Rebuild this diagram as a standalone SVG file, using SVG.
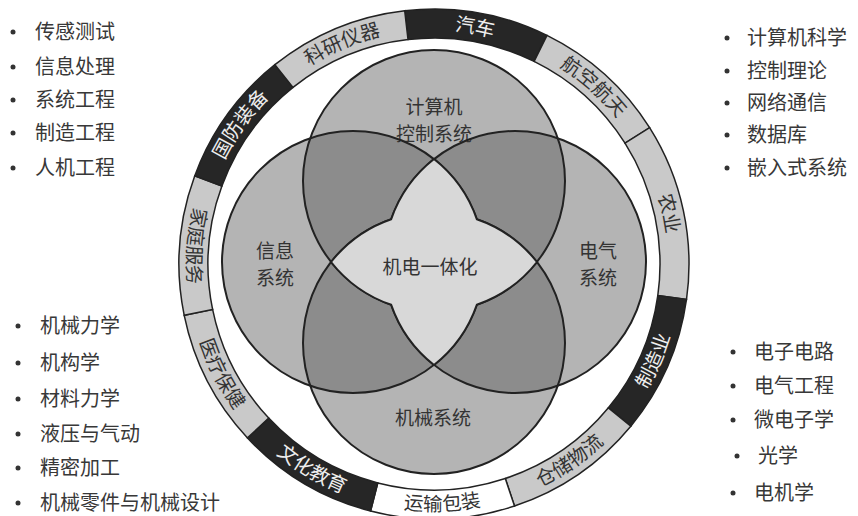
<svg xmlns="http://www.w3.org/2000/svg" width="858" height="516" viewBox="0 0 858 516">
<style>
text{font-family:"Noto Sans CJK SC","Noto Sans",sans-serif;}
.lst{font-size:20px;fill:#383838;}
.bul{fill:#333;}
.lbl{font-size:19px;fill:#333;text-anchor:middle;}
.ol{fill:none;stroke:#222;stroke-width:2;}
.segD{fill:#262626;stroke:#222;stroke-width:1.5;}
.segL{fill:#c9c9c9;stroke:#222;stroke-width:1.5;}
.segW{fill:#ffffff;stroke:#222;stroke-width:1.5;}
.rtD{font-size:19.5px;fill:#eeeeee;}
.rtL{font-size:19.5px;fill:#333;}
.mid{fill:#b4b4b4;}
.dark{fill:#8c8c8c;}
.star{fill:#d8d8d8;stroke:#222;stroke-width:2;stroke-linejoin:miter;}
</style>
<defs>
<clipPath id="cT"><circle cx="434" cy="181" r="131"/></clipPath>
<clipPath id="cB"><circle cx="434" cy="343" r="131"/></clipPath>
<path id="p1" d="M334.5,52.2 A234,234 0 0 1 599.0,98.1"/>
<path id="p2" d="M462.5,31.8 A234,234 0 0 1 662.0,211.4"/>
<path id="p3" d="M593.1,92.5 A234,234 0 0 1 649.6,354.9"/>
<path id="p4" d="M562.1,475.2 A247,247 0 0 0 676.3,215.8"/>
<path id="p5" d="M431.8,511 A247,247 0 0 0 665.4,350.5"/>
<path id="p6" d="M299.5,471.2 A247,247 0 0 0 582.6,461.3"/>
<path id="p7" d="M208.9,365.6 A247,247 0 0 0 452.5,510.3"/>
<path id="p8" d="M189.2,230.9 A247,247 0 0 0 319.2,482.7"/>
<path id="p9" d="M242.9,107.6 A247,247 0 0 0 221.6,390.1"/>
<path id="p10" d="M200.0,260.7 A234,234 0 0 1 357.0,43.0"/>
<path id="p11" d="M236.4,138.6 A234,234 0 0 1 484.2,35.5"/>
</defs>

<g id="ring">
<g id="seg-qiche"><path class="segD" d="M404.7,10.7 A255,255 0 0 1 547.0,35.4 L534.1,61.4 A226,226 0 0 0 408.0,39.5 Z"/><text class="rtD"><textPath href="#p1" startOffset="50%" text-anchor="middle">汽车</textPath></text></g>
<g id="seg-hangkong"><path class="segL" d="M547.0,35.4 A255,255 0 0 1 649.6,127.7 L625.0,143.2 A226,226 0 0 0 534.1,61.4 Z"/><text class="rtL"><textPath href="#p2" startOffset="50%" text-anchor="middle">航空航天</textPath></text></g>
<g id="seg-nongye"><path class="segL" d="M649.6,127.7 A255,255 0 0 1 686.5,299.5 L657.8,295.5 A226,226 0 0 0 625.0,143.2 Z"/><text class="rtL"><textPath href="#p3" startOffset="50%" text-anchor="middle">农业</textPath></text></g>
<g id="seg-zhizao"><path class="segD" d="M686.5,299.5 A255,255 0 0 1 630.8,426.2 L608.4,407.8 A226,226 0 0 0 657.8,295.5 Z"/><text class="rtD"><textPath href="#p4" startOffset="50%" text-anchor="middle">制造业</textPath></text></g>
<g id="seg-cangchu"><path class="segL" d="M630.8,426.2 A255,255 0 0 1 514.5,506.0 L505.3,478.5 A226,226 0 0 0 608.4,407.8 Z"/><text class="rtL"><textPath href="#p5" startOffset="50%" text-anchor="middle">仓储物流</textPath></text></g>
<g id="seg-yunshu"><path class="segW" d="M514.5,506.0 A255,255 0 0 1 370.6,511.0 L377.8,482.9 A226,226 0 0 0 505.3,478.5 Z"/><text class="rtL"><textPath href="#p6" startOffset="50%" text-anchor="middle">运输包装</textPath></text></g>
<g id="seg-wenhua"><path class="segD" d="M370.6,511.0 A255,255 0 0 1 247.5,437.9 L268.7,418.1 A226,226 0 0 0 377.8,482.9 Z"/><text class="rtD"><textPath href="#p7" startOffset="50%" text-anchor="middle">文化教育</textPath></text></g>
<g id="seg-yiliao"><path class="segL" d="M247.5,437.9 A255,255 0 0 1 184.2,315.3 L212.6,309.4 A226,226 0 0 0 268.7,418.1 Z"/><text class="rtL"><textPath href="#p8" startOffset="50%" text-anchor="middle">医疗保健</textPath></text></g>
<g id="seg-jiating"><path class="segL" d="M184.2,315.3 A255,255 0 0 1 194.7,175.9 L221.9,186.0 A226,226 0 0 0 212.6,309.4 Z"/><text class="rtL"><textPath href="#p9" startOffset="50%" text-anchor="middle">家庭服务</textPath></text></g>
<g id="seg-guofang"><path class="segD" d="M194.7,175.9 A255,255 0 0 1 274.9,64.7 L293.0,87.4 A226,226 0 0 0 221.9,186.0 Z"/><text class="rtD"><textPath href="#p10" startOffset="50%" text-anchor="middle">国防装备</textPath></text></g>
<g id="seg-keyan"><path class="segL" d="M274.9,64.7 A255,255 0 0 1 404.7,10.7 L408.0,39.5 A226,226 0 0 0 293.0,87.4 Z"/><text class="rtL"><textPath href="#p11" startOffset="50%" text-anchor="middle">科研仪器</textPath></text></g>
</g>

<g id="venn-fills">
<circle class="mid" cx="434" cy="181" r="131"/>
<circle class="mid" cx="434" cy="343" r="131"/>
<circle class="mid" cx="353" cy="262" r="131"/>
<circle class="mid" cx="515" cy="262" r="131"/>
<circle class="dark" cx="353" cy="262" r="131" clip-path="url(#cT)"/>
<circle class="dark" cx="515" cy="262" r="131" clip-path="url(#cT)"/>
<circle class="dark" cx="353" cy="262" r="131" clip-path="url(#cB)"/>
<circle class="dark" cx="515" cy="262" r="131" clip-path="url(#cB)"/>
</g>

<g id="node-computer"><circle class="ol" cx="434" cy="181" r="131"/><text class="lbl" x="434" y="114">计算机</text><text class="lbl" x="434" y="141">控制系统</text></g>
<g id="node-info"><circle class="ol" cx="353" cy="262" r="131"/><text class="lbl" x="275" y="258">信息</text><text class="lbl" x="275" y="285">系统</text></g>
<g id="node-electric"><circle class="ol" cx="515" cy="262" r="131"/><text class="lbl" x="598" y="258">电气</text><text class="lbl" x="598" y="285">系统</text></g>
<g id="node-mechanical"><circle class="ol" cx="434" cy="343" r="131"/><text class="lbl" x="433" y="425">机械系统</text></g>
<g id="node-center">
<path class="star" d="M434,159.04 A131,131 0 0 0 391.19,219.19 A131,131 0 0 0 331.04,262 A131,131 0 0 0 391.19,304.81 A131,131 0 0 0 434,364.96 A131,131 0 0 0 476.81,304.81 A131,131 0 0 0 536.96,262 A131,131 0 0 0 476.81,219.19 A131,131 0 0 0 434,159.04 Z"/>
<text class="lbl" x="430" y="274">机电一体化</text>
</g>

<g id="connectors"/>

<g id="list-top-left">
<circle class="bul" cx="13" cy="32" r="2.5"/><text class="lst" x="35" y="39">传感测试</text>
<circle class="bul" cx="13" cy="67" r="2.5"/><text class="lst" x="35" y="74">信息处理</text>
<circle class="bul" cx="13" cy="100" r="2.5"/><text class="lst" x="35" y="107">系统工程</text>
<circle class="bul" cx="13" cy="133" r="2.5"/><text class="lst" x="35" y="140">制造工程</text>
<circle class="bul" cx="13" cy="168" r="2.5"/><text class="lst" x="35" y="175">人机工程</text>
</g>
<g id="list-top-right">
<circle class="bul" cx="727" cy="38" r="2.5"/><text class="lst" x="747" y="45">计算机科学</text>
<circle class="bul" cx="727" cy="71" r="2.5"/><text class="lst" x="747" y="78">控制理论</text>
<circle class="bul" cx="727" cy="103" r="2.5"/><text class="lst" x="747" y="110">网络通信</text>
<circle class="bul" cx="727" cy="135" r="2.5"/><text class="lst" x="747" y="142">数据库</text>
<circle class="bul" cx="727" cy="168" r="2.5"/><text class="lst" x="747" y="175">嵌入式系统</text>
</g>
<g id="list-bottom-left">
<circle class="bul" cx="18" cy="326" r="2.5"/><text class="lst" x="40" y="333">机械力学</text>
<circle class="bul" cx="18" cy="363" r="2.5"/><text class="lst" x="40" y="370">机构学</text>
<circle class="bul" cx="18" cy="399" r="2.5"/><text class="lst" x="40" y="406">材料力学</text>
<circle class="bul" cx="18" cy="434" r="2.5"/><text class="lst" x="40" y="441">液压与气动</text>
<circle class="bul" cx="18" cy="468" r="2.5"/><text class="lst" x="40" y="475">精密加工</text>
<circle class="bul" cx="18" cy="503" r="2.5"/><text class="lst" x="40" y="510">机械零件与机械设计</text>
</g>
<g id="list-bottom-right">
<circle class="bul" cx="733" cy="352" r="2.5"/><text class="lst" x="754" y="359">电子电路</text>
<circle class="bul" cx="733" cy="386" r="2.5"/><text class="lst" x="754" y="393">电气工程</text>
<circle class="bul" cx="733" cy="420" r="2.5"/><text class="lst" x="754" y="427">微电子学</text>
<circle class="bul" cx="737" cy="456" r="2.5"/><text class="lst" x="758" y="463">光学</text>
<circle class="bul" cx="733" cy="493" r="2.5"/><text class="lst" x="754" y="500">电机学</text>
</g>
</svg>
